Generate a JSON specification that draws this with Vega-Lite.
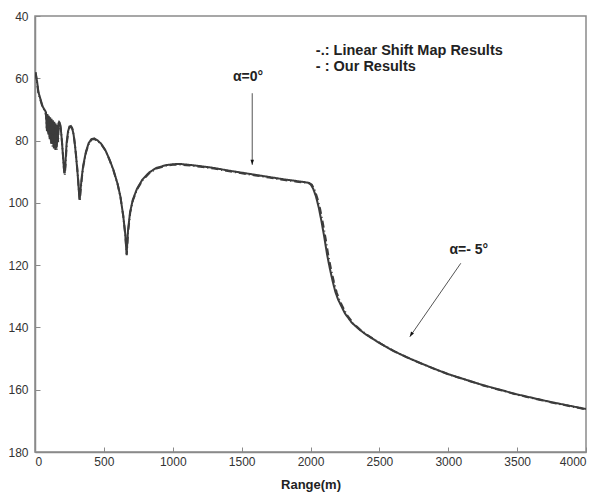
{
  "$schema": "https://vega.github.io/schema/vega-lite/v6.json",
  "width": 551,
  "height": 436,
  "autosize": {"type": "none"},
  "padding": {"left": 35, "top": 16, "right": 15, "bottom": 43},
  "background": "white",
  "config": {
    "view": {"stroke": "#8a8a8a", "strokeWidth": 1.5},
    "font": "Liberation Sans",
    "axis": {"grid": false, "labelFont": "Liberation Sans", "labelFontSize": 12, "labelColor": "#333", "domainColor": "#8a8a8a", "domainWidth": 1.5, "tickColor": "#8a8a8a", "tickWidth": 1}
  },
  "datasets": {
    "curves": [
      {"range": 5, "loss": 58.5, "series": "Our Results"},
      {"range": 15, "loss": 61, "series": "Our Results"},
      {"range": 25, "loss": 64.5, "series": "Our Results"},
      {"range": 35, "loss": 66, "series": "Our Results"},
      {"range": 45, "loss": 67.5, "series": "Our Results"},
      {"range": 55, "loss": 69, "series": "Our Results"},
      {"range": 65, "loss": 69.8, "series": "Our Results"},
      {"range": 75, "loss": 70.5, "series": "Our Results"},
      {"range": 80, "loss": 71, "series": "Our Results"},
      {"range": 85, "loss": 76, "series": "Our Results"},
      {"range": 90, "loss": 71.5, "series": "Our Results"},
      {"range": 95, "loss": 77.5, "series": "Our Results"},
      {"range": 100, "loss": 72, "series": "Our Results"},
      {"range": 105, "loss": 79, "series": "Our Results"},
      {"range": 110, "loss": 72.5, "series": "Our Results"},
      {"range": 115, "loss": 80, "series": "Our Results"},
      {"range": 120, "loss": 73, "series": "Our Results"},
      {"range": 125, "loss": 81, "series": "Our Results"},
      {"range": 130, "loss": 73.5, "series": "Our Results"},
      {"range": 135, "loss": 82, "series": "Our Results"},
      {"range": 140, "loss": 74, "series": "Our Results"},
      {"range": 145, "loss": 81, "series": "Our Results"},
      {"range": 150, "loss": 74.5, "series": "Our Results"},
      {"range": 155, "loss": 82.5, "series": "Our Results"},
      {"range": 160, "loss": 75, "series": "Our Results"},
      {"range": 165, "loss": 80, "series": "Our Results"},
      {"range": 170, "loss": 74.5, "series": "Our Results"},
      {"range": 175, "loss": 74, "series": "Our Results"},
      {"range": 180, "loss": 74.3, "series": "Our Results"},
      {"range": 185, "loss": 75.5, "series": "Our Results"},
      {"range": 190, "loss": 77.5, "series": "Our Results"},
      {"range": 195, "loss": 80, "series": "Our Results"},
      {"range": 200, "loss": 83, "series": "Our Results"},
      {"range": 205, "loss": 86, "series": "Our Results"},
      {"range": 210, "loss": 89, "series": "Our Results"},
      {"range": 215, "loss": 90.5, "series": "Our Results"},
      {"range": 220, "loss": 88, "series": "Our Results"},
      {"range": 225, "loss": 84, "series": "Our Results"},
      {"range": 230, "loss": 80.5, "series": "Our Results"},
      {"range": 240, "loss": 77, "series": "Our Results"},
      {"range": 250, "loss": 75.5, "series": "Our Results"},
      {"range": 260, "loss": 75.3, "series": "Our Results"},
      {"range": 270, "loss": 76, "series": "Our Results"},
      {"range": 280, "loss": 78, "series": "Our Results"},
      {"range": 290, "loss": 81.5, "series": "Our Results"},
      {"range": 300, "loss": 86, "series": "Our Results"},
      {"range": 310, "loss": 91, "series": "Our Results"},
      {"range": 318, "loss": 96, "series": "Our Results"},
      {"range": 324, "loss": 99, "series": "Our Results"},
      {"range": 330, "loss": 96, "series": "Our Results"},
      {"range": 340, "loss": 91.5, "series": "Our Results"},
      {"range": 350, "loss": 88, "series": "Our Results"},
      {"range": 370, "loss": 83.5, "series": "Our Results"},
      {"range": 390, "loss": 80.8, "series": "Our Results"},
      {"range": 410, "loss": 79.5, "series": "Our Results"},
      {"range": 430, "loss": 79.3, "series": "Our Results"},
      {"range": 450, "loss": 79.8, "series": "Our Results"},
      {"range": 480, "loss": 81, "series": "Our Results"},
      {"range": 510, "loss": 83, "series": "Our Results"},
      {"range": 540, "loss": 86, "series": "Our Results"},
      {"range": 570, "loss": 89.5, "series": "Our Results"},
      {"range": 600, "loss": 94, "series": "Our Results"},
      {"range": 620, "loss": 98, "series": "Our Results"},
      {"range": 640, "loss": 104, "series": "Our Results"},
      {"range": 655, "loss": 110, "series": "Our Results"},
      {"range": 665, "loss": 116.5, "series": "Our Results"},
      {"range": 675, "loss": 109, "series": "Our Results"},
      {"range": 690, "loss": 103, "series": "Our Results"},
      {"range": 710, "loss": 99, "series": "Our Results"},
      {"range": 740, "loss": 95.5, "series": "Our Results"},
      {"range": 780, "loss": 92.5, "series": "Our Results"},
      {"range": 830, "loss": 90.2, "series": "Our Results"},
      {"range": 880, "loss": 88.8, "series": "Our Results"},
      {"range": 950, "loss": 87.9, "series": "Our Results"},
      {"range": 1000, "loss": 87.6, "series": "Our Results"},
      {"range": 1050, "loss": 87.5, "series": "Our Results"},
      {"range": 1100, "loss": 87.7, "series": "Our Results"},
      {"range": 1200, "loss": 88.2, "series": "Our Results"},
      {"range": 1300, "loss": 88.8, "series": "Our Results"},
      {"range": 1400, "loss": 89.6, "series": "Our Results"},
      {"range": 1500, "loss": 90.3, "series": "Our Results"},
      {"range": 1600, "loss": 91, "series": "Our Results"},
      {"range": 1700, "loss": 91.7, "series": "Our Results"},
      {"range": 1800, "loss": 92.4, "series": "Our Results"},
      {"range": 1900, "loss": 93, "series": "Our Results"},
      {"range": 1980, "loss": 93.5, "series": "Our Results"},
      {"range": 2000, "loss": 94, "series": "Our Results"},
      {"range": 2020, "loss": 95.5, "series": "Our Results"},
      {"range": 2040, "loss": 98, "series": "Our Results"},
      {"range": 2060, "loss": 101.5, "series": "Our Results"},
      {"range": 2080, "loss": 106, "series": "Our Results"},
      {"range": 2100, "loss": 111, "series": "Our Results"},
      {"range": 2120, "loss": 116.5, "series": "Our Results"},
      {"range": 2140, "loss": 121, "series": "Our Results"},
      {"range": 2160, "loss": 125, "series": "Our Results"},
      {"range": 2180, "loss": 128.5, "series": "Our Results"},
      {"range": 2200, "loss": 131, "series": "Our Results"},
      {"range": 2250, "loss": 135.5, "series": "Our Results"},
      {"range": 2300, "loss": 138.5, "series": "Our Results"},
      {"range": 2350, "loss": 140.5, "series": "Our Results"},
      {"range": 2400, "loss": 142.2, "series": "Our Results"},
      {"range": 2500, "loss": 145, "series": "Our Results"},
      {"range": 2600, "loss": 147.5, "series": "Our Results"},
      {"range": 2700, "loss": 149.6, "series": "Our Results"},
      {"range": 2800, "loss": 151.5, "series": "Our Results"},
      {"range": 2900, "loss": 153.3, "series": "Our Results"},
      {"range": 3000, "loss": 155, "series": "Our Results"},
      {"range": 3250, "loss": 158.5, "series": "Our Results"},
      {"range": 3500, "loss": 161.5, "series": "Our Results"},
      {"range": 3750, "loss": 164, "series": "Our Results"},
      {"range": 4000, "loss": 166.2, "series": "Our Results"},

      {"range": 5, "loss": 58, "series": "Linear Shift Map Results"},
      {"range": 15, "loss": 61.5, "series": "Linear Shift Map Results"},
      {"range": 25, "loss": 64.8, "series": "Linear Shift Map Results"},
      {"range": 35, "loss": 66.3, "series": "Linear Shift Map Results"},
      {"range": 45, "loss": 67.8, "series": "Linear Shift Map Results"},
      {"range": 55, "loss": 69.3, "series": "Linear Shift Map Results"},
      {"range": 65, "loss": 70, "series": "Linear Shift Map Results"},
      {"range": 75, "loss": 71, "series": "Linear Shift Map Results"},
      {"range": 80, "loss": 72, "series": "Linear Shift Map Results"},
      {"range": 87, "loss": 77, "series": "Linear Shift Map Results"},
      {"range": 92, "loss": 72, "series": "Linear Shift Map Results"},
      {"range": 97, "loss": 78.5, "series": "Linear Shift Map Results"},
      {"range": 102, "loss": 72.5, "series": "Linear Shift Map Results"},
      {"range": 107, "loss": 80, "series": "Linear Shift Map Results"},
      {"range": 112, "loss": 73, "series": "Linear Shift Map Results"},
      {"range": 117, "loss": 81, "series": "Linear Shift Map Results"},
      {"range": 122, "loss": 73.5, "series": "Linear Shift Map Results"},
      {"range": 127, "loss": 82, "series": "Linear Shift Map Results"},
      {"range": 132, "loss": 74, "series": "Linear Shift Map Results"},
      {"range": 137, "loss": 82.5, "series": "Linear Shift Map Results"},
      {"range": 142, "loss": 74.5, "series": "Linear Shift Map Results"},
      {"range": 148, "loss": 83, "series": "Linear Shift Map Results"},
      {"range": 153, "loss": 75, "series": "Linear Shift Map Results"},
      {"range": 158, "loss": 83, "series": "Linear Shift Map Results"},
      {"range": 163, "loss": 75.5, "series": "Linear Shift Map Results"},
      {"range": 168, "loss": 80.5, "series": "Linear Shift Map Results"},
      {"range": 172, "loss": 75, "series": "Linear Shift Map Results"},
      {"range": 177, "loss": 74.3, "series": "Linear Shift Map Results"},
      {"range": 182, "loss": 74.8, "series": "Linear Shift Map Results"},
      {"range": 187, "loss": 76.2, "series": "Linear Shift Map Results"},
      {"range": 192, "loss": 78.3, "series": "Linear Shift Map Results"},
      {"range": 197, "loss": 81, "series": "Linear Shift Map Results"},
      {"range": 202, "loss": 84, "series": "Linear Shift Map Results"},
      {"range": 207, "loss": 87.5, "series": "Linear Shift Map Results"},
      {"range": 212, "loss": 90, "series": "Linear Shift Map Results"},
      {"range": 216, "loss": 91.2, "series": "Linear Shift Map Results"},
      {"range": 221, "loss": 88.5, "series": "Linear Shift Map Results"},
      {"range": 226, "loss": 84.5, "series": "Linear Shift Map Results"},
      {"range": 232, "loss": 80.5, "series": "Linear Shift Map Results"},
      {"range": 242, "loss": 77, "series": "Linear Shift Map Results"},
      {"range": 252, "loss": 75.7, "series": "Linear Shift Map Results"},
      {"range": 262, "loss": 75.6, "series": "Linear Shift Map Results"},
      {"range": 272, "loss": 76.4, "series": "Linear Shift Map Results"},
      {"range": 282, "loss": 78.5, "series": "Linear Shift Map Results"},
      {"range": 292, "loss": 82, "series": "Linear Shift Map Results"},
      {"range": 302, "loss": 86.5, "series": "Linear Shift Map Results"},
      {"range": 312, "loss": 91.5, "series": "Linear Shift Map Results"},
      {"range": 319, "loss": 96.5, "series": "Linear Shift Map Results"},
      {"range": 325, "loss": 99.5, "series": "Linear Shift Map Results"},
      {"range": 331, "loss": 96.2, "series": "Linear Shift Map Results"},
      {"range": 341, "loss": 91.7, "series": "Linear Shift Map Results"},
      {"range": 351, "loss": 88.2, "series": "Linear Shift Map Results"},
      {"range": 371, "loss": 83.7, "series": "Linear Shift Map Results"},
      {"range": 391, "loss": 81, "series": "Linear Shift Map Results"},
      {"range": 411, "loss": 79.7, "series": "Linear Shift Map Results"},
      {"range": 431, "loss": 79.5, "series": "Linear Shift Map Results"},
      {"range": 451, "loss": 80, "series": "Linear Shift Map Results"},
      {"range": 481, "loss": 81.2, "series": "Linear Shift Map Results"},
      {"range": 511, "loss": 83.2, "series": "Linear Shift Map Results"},
      {"range": 541, "loss": 86.2, "series": "Linear Shift Map Results"},
      {"range": 571, "loss": 89.8, "series": "Linear Shift Map Results"},
      {"range": 601, "loss": 94.2, "series": "Linear Shift Map Results"},
      {"range": 621, "loss": 98.3, "series": "Linear Shift Map Results"},
      {"range": 641, "loss": 104.3, "series": "Linear Shift Map Results"},
      {"range": 656, "loss": 110.5, "series": "Linear Shift Map Results"},
      {"range": 666, "loss": 116.8, "series": "Linear Shift Map Results"},
      {"range": 676, "loss": 109.3, "series": "Linear Shift Map Results"},
      {"range": 691, "loss": 103.2, "series": "Linear Shift Map Results"},
      {"range": 711, "loss": 99.2, "series": "Linear Shift Map Results"},
      {"range": 741, "loss": 95.7, "series": "Linear Shift Map Results"},
      {"range": 781, "loss": 92.7, "series": "Linear Shift Map Results"},
      {"range": 831, "loss": 90.4, "series": "Linear Shift Map Results"},
      {"range": 881, "loss": 89, "series": "Linear Shift Map Results"},
      {"range": 951, "loss": 88.1, "series": "Linear Shift Map Results"},
      {"range": 1000, "loss": 87.8, "series": "Linear Shift Map Results"},
      {"range": 1050, "loss": 87.7, "series": "Linear Shift Map Results"},
      {"range": 1100, "loss": 87.9, "series": "Linear Shift Map Results"},
      {"range": 1200, "loss": 88.4, "series": "Linear Shift Map Results"},
      {"range": 1300, "loss": 89, "series": "Linear Shift Map Results"},
      {"range": 1400, "loss": 89.8, "series": "Linear Shift Map Results"},
      {"range": 1500, "loss": 90.5, "series": "Linear Shift Map Results"},
      {"range": 1600, "loss": 91.2, "series": "Linear Shift Map Results"},
      {"range": 1700, "loss": 91.9, "series": "Linear Shift Map Results"},
      {"range": 1800, "loss": 92.6, "series": "Linear Shift Map Results"},
      {"range": 1900, "loss": 93.2, "series": "Linear Shift Map Results"},
      {"range": 1990, "loss": 93.6, "series": "Linear Shift Map Results"},
      {"range": 2010, "loss": 94.2, "series": "Linear Shift Map Results"},
      {"range": 2030, "loss": 95.8, "series": "Linear Shift Map Results"},
      {"range": 2050, "loss": 98.5, "series": "Linear Shift Map Results"},
      {"range": 2070, "loss": 102, "series": "Linear Shift Map Results"},
      {"range": 2090, "loss": 106.5, "series": "Linear Shift Map Results"},
      {"range": 2110, "loss": 111.5, "series": "Linear Shift Map Results"},
      {"range": 2130, "loss": 117, "series": "Linear Shift Map Results"},
      {"range": 2150, "loss": 121.5, "series": "Linear Shift Map Results"},
      {"range": 2170, "loss": 125.3, "series": "Linear Shift Map Results"},
      {"range": 2190, "loss": 128.7, "series": "Linear Shift Map Results"},
      {"range": 2210, "loss": 131.2, "series": "Linear Shift Map Results"},
      {"range": 2260, "loss": 135.7, "series": "Linear Shift Map Results"},
      {"range": 2310, "loss": 138.7, "series": "Linear Shift Map Results"},
      {"range": 2360, "loss": 140.7, "series": "Linear Shift Map Results"},
      {"range": 2410, "loss": 142.4, "series": "Linear Shift Map Results"},
      {"range": 2510, "loss": 145.2, "series": "Linear Shift Map Results"},
      {"range": 2610, "loss": 147.7, "series": "Linear Shift Map Results"},
      {"range": 2710, "loss": 149.8, "series": "Linear Shift Map Results"},
      {"range": 2810, "loss": 151.7, "series": "Linear Shift Map Results"},
      {"range": 2910, "loss": 153.5, "series": "Linear Shift Map Results"},
      {"range": 3010, "loss": 155.2, "series": "Linear Shift Map Results"},
      {"range": 3260, "loss": 158.7, "series": "Linear Shift Map Results"},
      {"range": 3510, "loss": 161.7, "series": "Linear Shift Map Results"},
      {"range": 3760, "loss": 164.2, "series": "Linear Shift Map Results"},
      {"range": 4000, "loss": 166.3, "series": "Linear Shift Map Results"}
    ],
    "legendText": [
      {"x": 2039, "y": 51.1, "label": "-.: Linear Shift Map Results"},
      {"x": 2039, "y": 56.5, "label": "- : Our Results"}
    ],
    "angleText": [
      {"x": 1546, "y": 59.6, "label": "α=0°"},
      {"x": 3149, "y": 115.1, "label": "α=- 5°"}
    ],
    "arrows": [
      {"x": 1577, "y": 64.8, "x2": 1577, "y2": 87.8, "angle": 0},
      {"x": 3091, "y": 119.4, "x2": 2721, "y2": 143.0, "angle": 32.3}
    ]
  },
  "layer": [
    {
      "data": {"name": "curves"},
      "mark": {"type": "line", "strokeWidth": 2, "color": "#3c3c3c", "clip": true},
      "encoding": {
        "x": {"field": "range", "type": "quantitative", "scale": {"domain": [0, 4000], "nice": false}, "axis": {"title": "Range(m)", "titleFont": "Liberation Sans", "titleFontSize": 13, "titleFontWeight": "bold", "titleColor": "#222", "titlePadding": 11, "format": "d", "values": [0, 500, 1000, 1500, 2000, 2500, 3000, 3500, 4000], "tickSize": -5, "labelPadding": 9}},
        "y": {"field": "loss", "type": "quantitative", "scale": {"domain": [40, 180], "reverse": true, "nice": false, "zero": false}, "axis": {"title": null, "format": "d", "values": [40, 60, 80, 100, 120, 140, 160, 180], "tickSize": -5, "labelPadding": 12}},
        "strokeDash": {"field": "series", "type": "nominal", "scale": {"domain": ["Linear Shift Map Results", "Our Results"], "range": [[7, 3, 1, 3], [1, 0]]}, "legend": null}
      }
    },
    {
      "data": {"name": "arrows"},
      "mark": {"type": "rule", "color": "#555", "strokeWidth": 1},
      "encoding": {
        "x": {"field": "x", "type": "quantitative"},
        "y": {"field": "y", "type": "quantitative"},
        "x2": {"field": "x2"},
        "y2": {"field": "y2"}
      }
    },
    {
      "data": {"name": "arrows"},
      "mark": {"type": "point", "filled": true, "color": "#111", "opacity": 1, "size": 100, "shape": "M0,0 L-0.35,-1 L0.35,-1 Z"},
      "encoding": {
        "x": {"field": "x2", "type": "quantitative"},
        "y": {"field": "y2", "type": "quantitative"},
        "angle": {"field": "angle", "type": "quantitative", "scale": null}
      }
    },
    {
      "data": {"name": "legendText"},
      "mark": {"type": "text", "font": "Liberation Sans", "fontSize": 14.5, "fontWeight": "bold", "color": "#222", "baseline": "middle", "align": "left"},
      "encoding": {
        "x": {"field": "x", "type": "quantitative"},
        "y": {"field": "y", "type": "quantitative"},
        "text": {"field": "label"}
      }
    },
    {
      "data": {"name": "angleText"},
      "mark": {"type": "text", "font": "Liberation Sans", "fontSize": 14, "fontWeight": "bold", "color": "#222", "baseline": "middle", "align": "center"},
      "encoding": {
        "x": {"field": "x", "type": "quantitative"},
        "y": {"field": "y", "type": "quantitative"},
        "text": {"field": "label"}
      }
    }
  ]
}
